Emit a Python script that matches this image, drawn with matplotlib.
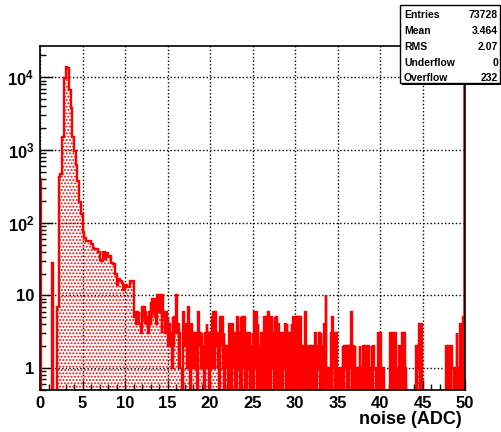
import numpy as np
import matplotlib
matplotlib.use('Agg')
import matplotlib.pyplot as plt
from matplotlib.patches import Rectangle
from matplotlib.ticker import FixedLocator, FixedFormatter, LogLocator, MultipleLocator

plt.rcParams['font.family'] = ['Liberation Sans', 'DejaVu Sans']
plt.rcParams['font.weight'] = 'bold'
plt.rcParams['mathtext.fontset'] = 'custom'
plt.rcParams['mathtext.bf'] = 'Liberation Sans:bold'
plt.rcParams['mathtext.rm'] = 'Liberation Sans:bold'
plt.rcParams['mathtext.default'] = 'bf'
plt.rcParams['hatch.linewidth'] = 0.9

# histogram range (50 ADC, 500 bins of 0.1)
x_min, x_max, n_bins = 0, 50, 500

# bin contents, one row = 1 ADC (10 bins)
counts = [
    400, 0, 0, 0, 0, 0, 0, 0, 0, 0,
    0, 0, 0, 0, 28, 0, 0, 0, 0, 0,
    7, 7, 420, 420, 470, 470, 1500, 1500, 9700, 9700,
    14000, 14000, 13500, 13500, 6600, 6600, 3800, 3800, 1500, 1500,
    980, 980, 630, 630, 370, 370, 195, 195, 130, 130,
    75, 75, 62, 62, 56, 56, 56, 56, 56, 56,
    51, 51, 45, 45, 43, 43, 43, 43, 39, 39,
    31, 31, 30, 30, 39, 39, 32, 32, 38, 38,
    34, 34, 35, 35, 28, 28, 27, 27, 20, 20,
    14, 14, 17, 17, 16, 16, 15, 15, 12, 12,
    14, 14, 13, 13, 13, 13, 16, 16, 16, 16,
    7, 5, 6, 4, 6, 5, 6, 4, 4, 3,
    7, 5, 7, 4, 6, 4, 5, 3, 6, 4,
    8, 5, 9, 6, 9, 5, 7, 4, 10, 6,
    10, 6, 6, 3, 10, 5, 6, 3, 6, 4,
    5, 2, 4, 2, 3, 1, 5, 2, 5, 3,
    10, 3, 4, 1, 3, 1, 1, 0, 6, 2,
    4, 2, 4, 1, 7, 2, 0, 0, 4, 1,
    3, 1, 3, 2, 2, 0, 6, 2, 3, 1,
    3, 1, 2, 0, 3, 1, 4, 2, 3, 0,
    3, 1, 5, 2, 6, 1, 6, 2, 3, 1,
    3, 0, 5, 2, 5, 1, 3, 0, 2, 1,
    2, 0, 4, 1, 3, 0, 4, 1, 3, 0,
    3, 0, 5, 1, 3, 0, 5, 0, 5, 1,
    5, 0, 3, 0, 2, 1, 3, 0, 2, 0,
    3, 0, 6, 1, 6, 0, 4, 0, 2, 0,
    3, 0, 3, 1, 5, 0, 5, 0, 6, 1,
    5, 0, 5, 1, 3, 0, 5, 0, 5, 0,
    4, 0, 3, 0, 1, 0, 3, 1, 4, 0,
    4, 0, 3, 0, 3, 1, 4, 0, 5, 0,
    5, 0, 5, 1, 5, 0, 5, 0, 2, 0,
    2, 0, 6, 0, 2, 1, 2, 0, 2, 0,
    2, 0, 1, 0, 3, 0, 2, 1, 3, 0,
    3, 0, 2, 0, 4, 1, 10, 0, 1, 0,
    1, 0, 3, 0, 5, 1, 3, 0, 3, 0,
    1, 0, 1, 0, 0, 1, 2, 0, 2, 1,
    2, 0, 2, 0, 2, 1, 6, 0, 2, 0,
    2, 1, 1, 0, 1, 0, 2, 0, 1, 0,
    2, 0, 2, 1, 0, 0, 2, 0, 1, 0,
    2, 0, 2, 1, 1, 0, 0, 0, 3, 0,
    3, 0, 1, 0, 1, 0, 0, 0, 0, 0,
    0, 0, 3, 0, 3, 1, 3, 0, 3, 0,
    1, 0, 2, 0, 0, 0, 3, 0, 3, 1,
    0, 0, 0, 0, 0, 0, 0, 0, 0, 0,
    0, 0, 2, 0, 2, 1, 4, 0, 4, 0,
    0, 0, 0, 0, 0, 0, 0, 0, 0, 0,
    0, 0, 0, 0, 0, 0, 0, 0, 0, 0,
    0, 0, 0, 0, 0, 0, 0, 0, 2, 0,
    2, 0, 1, 0, 2, 1, 1, 0, 1, 0,
    3, 0, 1, 0, 4, 1, 4, 0, 5, 0,
]

stat_names = ['Entries', 'Mean', 'RMS', 'Underflow', 'Overflow']
stat_values = ['73728', '3.464', '2.07', '0', '232']

y_ticks = [1, 10, 100, 1000, 10000]
y_ticklabels = ['1', '10', r'$10^{2}$', r'$10^{3}$', r'$10^{4}$']

edges = np.linspace(x_min, x_max, n_bins + 1)
counts = np.array(counts, dtype=float)

fig = plt.figure(figsize=(5.01, 4.32), dpi=100)
ax = fig.add_axes([40 / 501, 42 / 432, 425 / 501, 344 / 432])
ax.set_yscale('log')

ax.grid(True, which='major', color='black', linestyle=(0, (1, 1.6)), linewidth=1.0, zorder=0)
ax.set_axisbelow(True)

# dotted fill + red outline, ROOT style
ax.stairs(counts, edges, baseline=0, fill=True, facecolor='none', edgecolor='red',
          hatch='.....', linewidth=0, zorder=2)
ax.stairs(counts, edges, baseline=0, color='red', linewidth=1.7, zorder=3)
ax.axvline(49.85, color='red', linewidth=1.8, zorder=3)

ax.set_xlim(x_min, x_max)
ax.set_ylim(0.5, 2.7e4)

ax.xaxis.set_major_locator(MultipleLocator(5))
ax.xaxis.set_minor_locator(MultipleLocator(1))
ax.yaxis.set_major_locator(FixedLocator(y_ticks))
ax.yaxis.set_major_formatter(FixedFormatter(y_ticklabels))
ax.yaxis.set_minor_locator(LogLocator(base=10, subs=np.arange(2, 10)))

ax.tick_params(axis='both', which='both', direction='in', top=False, right=False,
               width=1.0, color='black', labelsize=12)
ax.tick_params(axis='x', which='major', length=7, pad=4)
ax.tick_params(axis='x', which='minor', length=4)
ax.tick_params(axis='y', which='major', length=9, pad=4)
ax.tick_params(axis='y', which='minor', length=4.5)
for lab in ax.get_xticklabels() + ax.get_yticklabels():
    lab.set_fontweight('bold')

for sp in ax.spines.values():
    sp.set_linewidth(1.2)
    sp.set_color('black')
    sp.set_zorder(5)

fig.text(462 / 501, 1 - 420 / 432, 'noise (ADC)', ha='right', va='center',
         fontsize=13, fontweight='bold')

# stats box
bx0, by0, bw, bh = 400 / 501, 1 - 83 / 432, 100 / 501, 78 / 432
fig.patches.append(Rectangle((bx0 + 1.5 / 501, by0 - 2 / 432), bw, bh, transform=fig.transFigure,
                             facecolor='black', edgecolor='black', linewidth=0, zorder=10))
fig.patches.append(Rectangle((bx0, by0), bw, bh, transform=fig.transFigure,
                             facecolor='white', edgecolor='black', linewidth=1.0, zorder=11))
row_y = [14.5, 31, 47.5, 63.5, 78]
for name, val, yy in zip(stat_names, stat_values, row_y):
    fig.text(404 / 501, 1 - yy / 432, name, ha='left', va='center', fontsize=7.5,
             fontweight='bold', zorder=12)
    fig.text(498 / 501, 1 - yy / 432, val, ha='right', va='center', fontsize=7.5,
             fontweight='bold', zorder=12)

fig.savefig('out.png', dpi=100)
